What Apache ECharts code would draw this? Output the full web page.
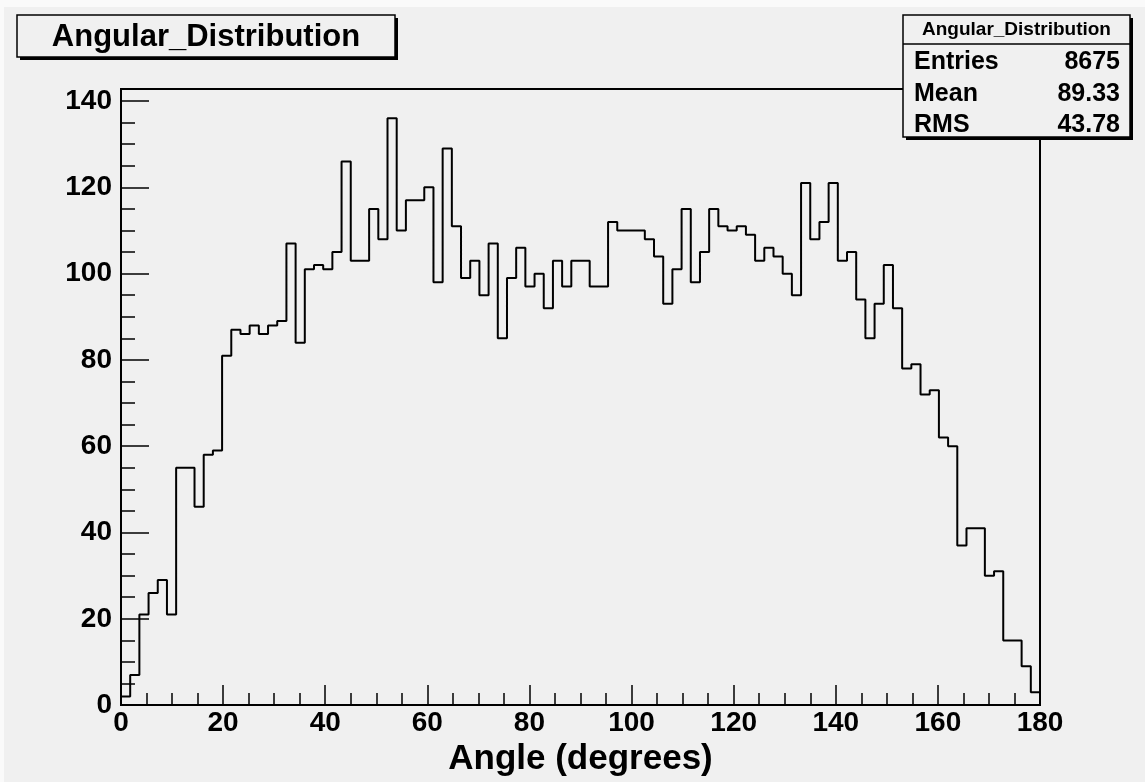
<!DOCTYPE html>
<html>
<head>
<meta charset="utf-8">
<script src="https://cdn.jsdelivr.net/npm/echarts@6/dist/echarts.min.js"></script>
<style>
html,body{margin:0;padding:0;background:#fff;}
#chart{width:1145px;height:782px;}
</style>
</head>
<body>
<div id="chart"></div>
<script>
// ---- data ----
const histTitle = 'Angular_Distribution';
const xAxisTitle = 'Angle (degrees)';
const xMin = 0, xMax = 180, binWidth = 1.8;
const binValues = [
  2, 7, 21, 26, 29, 21, 55, 55, 46, 58,
  59, 81, 87, 86, 88, 86, 88, 89, 107, 84,
  101, 102, 101, 105, 126, 103, 103, 115, 108, 136,
  110, 117, 117, 120, 98, 129, 111, 99, 103, 95,
  107, 85, 99, 106, 97, 100, 92, 103, 97, 103,
  103, 97, 97, 112, 110, 110, 110, 108, 104, 93,
  101, 115, 98, 105, 115, 111, 110, 111, 109, 103,
  106, 104, 100, 95, 121, 108, 112, 121, 103, 105,
  94, 85, 93, 102, 92, 78, 79, 72, 73, 62,
  60, 37, 41, 41, 30, 31, 15, 15, 9, 3
];
const yMax = 142.8;
const yMajorTicks = [0, 20, 40, 60, 80, 100, 120, 140];
const yMinorTicks = [5, 10, 15, 25, 30, 35, 45, 50, 55, 65, 70, 75, 85, 90, 95, 105, 110, 115, 125, 130, 135];
const statLabels = ['Entries', 'Mean', 'RMS'];
const statValues = ['8675', '89.33', '43.78'];

// ---- build step outline from bins ----
const outline = [[xMin, 0]];
binValues.forEach((v, i) => {
  outline.push([xMin + i * binWidth, v]);
  outline.push([xMin + (i + 1) * binWidth, v]);
});
outline.push([xMax, 0]);

const FONT = "'Liberation Sans', Arial, Helvetica, sans-serif";
const BG = '#f0f0f0';

const chart = echarts.init(document.getElementById('chart'), null, {renderer: 'canvas'});

const statsX = 903, statsY = 15, statsW = 227, statsH = 122;
const statRowsY = [62, 94, 125];

const graphics = [
  // light white page edges
  {type: 'rect', shape: {x: 0, y: 0, width: 1145, height: 7}, style: {fill: '#fafafa'}, z: 1, silent: true},
  {type: 'rect', shape: {x: 0, y: 0, width: 4, height: 782}, style: {fill: '#fafafa'}, z: 1, silent: true},
  // title box
  {type: 'rect', shape: {x: 20, y: 18, width: 378, height: 42}, style: {fill: '#000'}, z: 100},
  {type: 'rect', shape: {x: 17, y: 15, width: 378, height: 42}, style: {fill: BG, stroke: '#000', lineWidth: 1.5}, z: 101},
  {type: 'text', x: 206, y: 37, style: {text: histTitle, font: 'bold 31px ' + FONT, fill: '#000', align: 'center', verticalAlign: 'middle'}, z: 102},
  // stats box
  {type: 'rect', shape: {x: statsX + 3, y: statsY + 3, width: statsW, height: statsH}, style: {fill: '#000'}, z: 100},
  {type: 'rect', shape: {x: statsX, y: statsY, width: statsW, height: statsH}, style: {fill: BG, stroke: '#000', lineWidth: 1.5}, z: 101},
  {type: 'line', shape: {x1: statsX, y1: 44, x2: statsX + statsW, y2: 44}, style: {stroke: '#000', lineWidth: 1.5}, z: 102},
  {type: 'text', x: statsX + statsW / 2, y: 30, style: {text: histTitle, font: 'bold 19px ' + FONT, fill: '#000', align: 'center', verticalAlign: 'middle'}, z: 102}
];
statLabels.forEach((lab, i) => {
  graphics.push({type: 'text', x: statsX + 11, y: statRowsY[i], style: {text: lab, font: 'bold 25px ' + FONT, fill: '#000', align: 'left', verticalAlign: 'middle'}, z: 102});
  graphics.push({type: 'text', x: statsX + statsW - 10, y: statRowsY[i], style: {text: statValues[i], font: 'bold 25px ' + FONT, fill: '#000', align: 'right', verticalAlign: 'middle'}, z: 102});
});

const option = {
  backgroundColor: BG,
  animation: false,
  grid: {
    left: 121, right: 105, top: 89, bottom: 74,
    show: true, borderColor: '#000', borderWidth: 2, backgroundColor: 'transparent'
  },
  xAxis: {
    type: 'value', min: xMin, max: xMax, interval: 20,
    axisLine: {show: true, onZero: false, lineStyle: {color: '#000', width: 2}},
    axisTick: {show: true, inside: true, length: 20, lineStyle: {color: '#000', width: 1.5}},
    minorTick: {show: true, splitNumber: 4, length: 12, lineStyle: {color: '#000', width: 1.5}},
    axisLabel: {margin: 4, color: '#000', fontFamily: FONT, fontWeight: 'bold', fontSize: 28},
    splitLine: {show: false},
    name: xAxisTitle, nameLocation: 'middle', nameGap: 29,
    nameTextStyle: {color: '#000', fontFamily: FONT, fontWeight: 'bold', fontSize: 35}
  },
  yAxis: [
    {
      type: 'value', min: 0, max: yMax, position: 'left',
      axisLine: {show: true, onZero: false, lineStyle: {color: '#000', width: 2}},
      axisTick: {show: true, inside: true, length: 28, customValues: yMajorTicks, lineStyle: {color: '#000', width: 1.5}},
      axisLabel: {margin: 9, customValues: yMajorTicks, color: '#000', fontFamily: FONT, fontWeight: 'bold', fontSize: 28},
      splitLine: {show: false}
    },
    {
      type: 'value', min: 0, max: yMax, position: 'left',
      axisLine: {show: false},
      axisTick: {show: true, inside: true, length: 14, customValues: yMinorTicks, lineStyle: {color: '#000', width: 1.5}},
      axisLabel: {show: false},
      splitLine: {show: false}
    }
  ],
  series: [{
    type: 'line',
    data: outline,
    xAxisIndex: 0, yAxisIndex: 0,
    symbol: 'none',
    lineStyle: {color: '#000', width: 2},
    clip: true,
    z: 3
  }],
  graphic: graphics
};
chart.setOption(option);
</script>
</body>
</html>
